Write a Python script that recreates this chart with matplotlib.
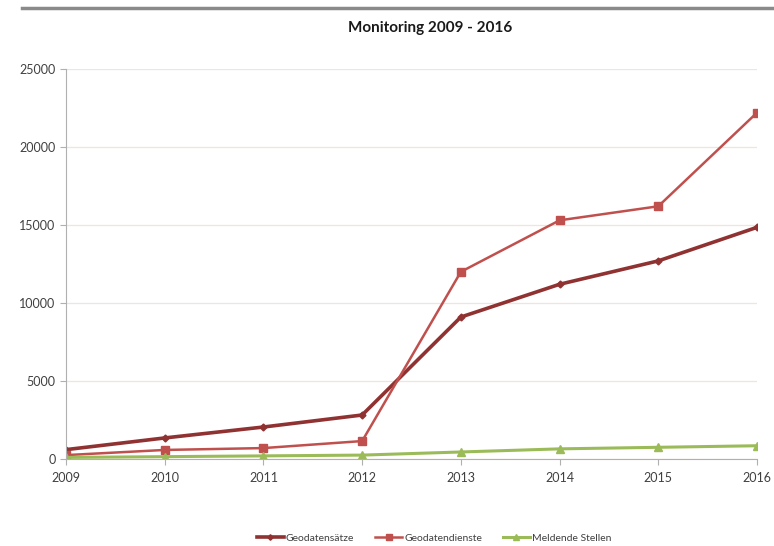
import matplotlib.pyplot as plt
from matplotlib.lines import Line2D

plt.rcParams['font.family'] = ['Lato', 'DejaVu Sans']

years = [2009, 2010, 2011, 2012, 2013, 2014, 2015, 2016]
geodatensaetze = [600, 1350, 2050, 2820, 9100, 11200, 12700, 14850]
geodatendienste = [250, 580, 700, 1150, 12000, 15300, 16200, 22200]
meldende_stellen = [100, 150, 200, 250, 450, 650, 750, 850]

fig = plt.figure(figsize=(7.74, 5.46), dpi=100)
ax = fig.add_axes([66 / 774, 1 - 459 / 546, (757 - 66) / 774, (459 - 69) / 546])

ax.plot(years, geodatensaetze, color='#8f3231', lw=2.6, marker='D', ms=3.5,
        label='Geodatensätze')
ax.plot(years, geodatendienste, color='#c0504d', lw=1.8, marker='s', ms=6,
        label='Geodatendienste')
ax.plot(years, meldende_stellen, color='#9bbb59', lw=2.2, marker='^', ms=6,
        label='Meldende Stellen')

ax.set_xlim(2009, 2016)
ax.set_ylim(0, 25000)
ax.set_yticks(range(0, 25001, 5000))
ax.set_xticks(years)
ax.grid(axis='y', color='#ebe7d9', lw=0.9)
ax.set_axisbelow(True)
for s in ['top', 'right']:
    ax.spines[s].set_visible(False)
for s in ['left', 'bottom']:
    ax.spines[s].set_color('#b0b0b0')
ax.tick_params(axis='both', colors='#b0b0b0', labelcolor='#404040', labelsize=9, length=4)
ax.tick_params(axis='x', pad=5)
for sp in ax.spines.values():
    sp.set_clip_on(False)

fig.text(430 / 774, 1 - 28 / 546, 'Monitoring 2009 - 2016', ha='center', va='center',
         fontsize=11, fontweight='bold', color='#1a1a1a')
fig.add_artist(Line2D([22 / 774, 1], [1 - 8 / 546, 1 - 8 / 546], color='#8a8a8a', lw=2.5))

fig.legend(loc='center', bbox_to_anchor=(434 / 774, 1 - 538 / 546), ncol=3, frameon=False,
           fontsize=7.5, handlelength=2.6, handletextpad=0.2, columnspacing=2.0,
           markerscale=0.8, labelcolor='#404040')

fig.savefig('out.png', dpi=100)
